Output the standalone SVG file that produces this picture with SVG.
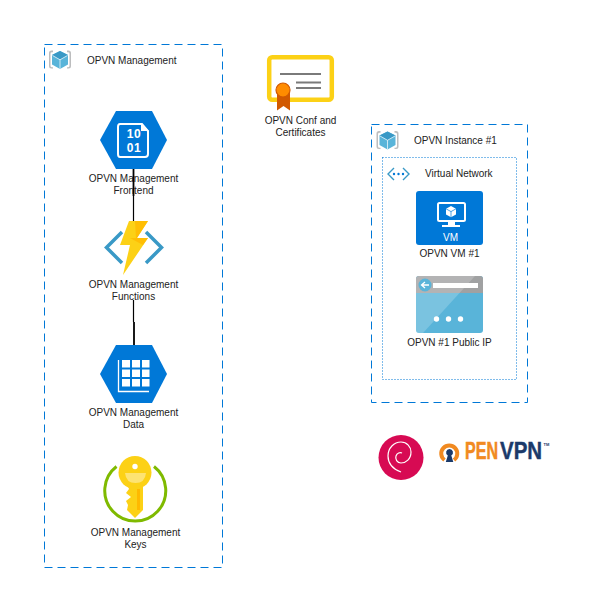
<svg xmlns="http://www.w3.org/2000/svg" width="615" height="601" viewBox="0 0 615 601">
<style>
text{font-family:"Liberation Sans",Arial,sans-serif;font-size:10px;fill:#222}
.c{text-anchor:middle}
.box{fill:none;stroke:#0078d7;stroke-width:1}
.cube-a{fill:#59b4d9}.cube-b{fill:#3999c6}.cube-c{fill:#a0a1a2;opacity:.7}
.blue{fill:#0078d7}.w{fill:#fff}
.digit{font-size:12px;font-weight:bold;fill:#fff;letter-spacing:.6px}
.logo{font-weight:bold}
</style>
<defs>
<g id="cube">
<path class="cube-c" d="M4 0h-1.500q-2.500 0-2.500 2.500v13q0 2.500 2.500 2.500h1.500v-1.300h-1q-1.500 0-1.500-1.500v-12q0-1.400 1.500-1.400h1zM18 0h1.500q2.500 0 2.500 2.500v13q0 2.500-2.500 2.500h-1.500v-1.300h1q1.500 0 1.500-1.500v-12q0-1.400-1.500-1.400h-1z"/>
<path class="cube-a" d="M11 .5l8 4v9.500l-8 4.500-8-4.500v-9.500z"/>
<path class="cube-b" d="M11 .5l8 4-8 4.500-8-4.500z"/>
<path d="M3.500 5l7.500 4.300 7.500-4.300M11 9.300v9" fill="none" stroke="#fff" stroke-width=".7"/>
</g>
</defs>

<g id="opvn-management">
<rect class="box" x="44.500" y="44.500" width="178" height="523" stroke-dasharray="8 5"/>
<use href="#cube" x="49" y="50.500"/>
<text x="87" y="63.500">OPVN Management</text>
</g>

<g id="frontend">
<path class="blue" d="M116 111H152L167 140 152 169H116L100 140z"/>
<path d="M120 124H142L148 131V154Q148 157 145 157H120Q118 157 118 154V127Q118 124 120 124z" fill="none" stroke="#fff" stroke-width="2"/>
<path class="w" d="M141 123l8 8h-8z"/>
<text class="c digit" x="134" y="138">10</text>
<text class="c digit" x="134" y="152">01</text>
<text class="c" x="133.500" y="182">OPVN Management</text>
<text class="c" x="133.500" y="194">Frontend</text>
</g>

<g id="functions">
<path d="M122 232l-15.500 15.500 15.500 15.500" fill="none" stroke="#3999c6" stroke-width="3.500"/>
<path d="M146 232l15.500 15.500-15.500 15.500" fill="none" stroke="#3999c6" stroke-width="3.500"/>
<path fill="#fcd116" d="M129 221H148L137 238H148L123 275 130 245H120z"/>
<path fill="#ffb900" d="M135 221H148L137 238H148L143 245 130 238H136z" opacity=".8"/>
<text class="c" x="133.500" y="288">OPVN Management</text>
<text class="c" x="133.500" y="300">Functions</text>
</g>

<g id="data">
<path class="blue" d="M116 345H152L167 374 152 403H116L100 374z"/>
<path d="M118.500 360V391.500H149" fill="none" stroke="#fff" stroke-width="1.300"/>
<g class="w">
<rect x="122" y="360" width="8" height="7.500"/><rect x="132" y="360" width="8" height="7.500"/><rect x="142" y="360" width="7.500" height="7.500"/>
<rect x="122" y="369.500" width="8" height="7.500"/><rect x="132" y="369.500" width="8" height="7.500"/><rect x="142" y="369.500" width="7.500" height="7.500"/>
<rect x="122" y="379" width="8" height="7.500"/><rect x="132" y="379" width="8" height="7.500"/><rect x="142" y="379" width="7.500" height="7.500"/>
</g>
<text class="c" x="133.500" y="416">OPVN Management</text>
<text class="c" x="133.500" y="428">Data</text>
</g>

<g id="keys">
<path d="M116.500 466.500A30.500 30.500 0 1 0 154 466.500" fill="none" stroke="#7fba00" stroke-width="3"/>
<circle cx="135" cy="472.500" r="16.500" fill="#fcd116"/>
<path fill="#fcd116" d="M127 484H143V510L135 518 127 510 128 505 126 501 131 497 126 493 129 489z"/>
<path fill="#fff" opacity=".4" d="M125 473H146Q145 483 135.500 483T125 473z"/>
<circle cx="135" cy="466.500" r="2.700" fill="#fff"/>
<rect x="137" y="489" width="3" height="21" fill="#ffb900"/>
<text class="c" x="135.500" y="536">OPVN Management</text>
<text class="c" x="135.500" y="548">Keys</text>
</g>

<g id="connectors" stroke="#000" fill="none">
<path d="M133.500 169V196" stroke-width="1.800"/>
<path d="M133.500 196V221" stroke-width="1.200"/>
<path d="M133.500 300V322" stroke-width="1.200"/>
<path d="M134 322V345" stroke-width="1.800"/>
</g>

<g id="conf-certificates">
<rect x="269.200" y="57.200" width="62.600" height="42.600" rx="3" fill="#fff" stroke="#fcd116" stroke-width="4.500"/>
<path d="M280 74H321M296 82.500H321M296 88H321" stroke="#7a7a7a" stroke-width="2" fill="none"/>
<path fill="#d15900" d="M277 92h13v18.500l-6.500-4.500-6.500 4.500z"/>
<circle cx="283" cy="90" r="7" fill="#ff8c00" stroke="#d15900" stroke-width="1.200"/>
<text class="c" x="300.500" y="124">OPVN Conf and</text>
<text class="c" x="300.500" y="136">Certificates</text>
</g>

<g id="opvn-instance">
<rect class="box" x="371.500" y="124.500" width="156" height="278" stroke-dasharray="8 5"/>
<use href="#cube" x="376.500" y="131"/>
<text x="414" y="143.500">OPVN Instance #1</text>
</g>

<g id="virtual-network">
<rect class="box" x="382.500" y="157.500" width="134" height="222" stroke-dasharray="1 2"/>
<path d="M394 168l-6 6 6 6M403 168l6 6-6 6" fill="none" stroke="#3999c6" stroke-width="1.400"/>
<circle cx="394" cy="174" r="1.200" fill="#0078d7"/><circle cx="398.500" cy="174" r="1.200" fill="#0078d7"/><circle cx="403" cy="174" r="1.200" fill="#0078d7"/>
<text x="425" y="177">Virtual Network</text>
</g>

<g id="vm">
<rect class="blue" x="416" y="191" width="67" height="54" rx="3"/>
<rect x="438" y="203" width="27" height="18" rx="1.500" fill="none" stroke="#fff" stroke-width="2"/>
<path class="w" d="M448 222h7v3h5v2h-18v-2h6z"/>
<path class="w" d="M451 206l5 2.800v5.600l-5 2.800-5-2.800v-5.600z"/>
<path d="M446 208.800l5 2.800 5-2.800M451 211.600v5.600" fill="none" stroke="#0078d7" stroke-width=".7"/>
<text class="c" x="450.500" y="241" style="fill:#fff">VM</text>
<text class="c" x="449.500" y="257">OPVN VM #1</text>
</g>

<g id="public-ip">
<rect x="416" y="276" width="67" height="57" rx="3" fill="#59b4d9"/>
<path d="M416 293h67v-14q0-3-3-3h-61q-3 0-3 3z" fill="#a0a1a2"/>
<path d="M423 333L475 276H419Q416 276 416 279V330Q416 333 419 333z" fill="#fff" opacity=".2"/>
<rect x="433" y="283" width="45" height="5" fill="#fff"/>
<circle cx="425" cy="285" r="6.500" fill="#59b4d9"/>
<path d="M429 285h-7M425 282l-3.500 3 3.500 3" fill="none" stroke="#fff" stroke-width="1.300"/>
<circle cx="436.500" cy="319" r="2.700" fill="#fff"/><circle cx="448.500" cy="319" r="2.700" fill="#fff"/><circle cx="460.500" cy="319" r="2.700" fill="#fff"/>
<text class="c" x="449.500" y="346">OPVN #1 Public IP</text>
</g>

<g id="debian">
<circle cx="401" cy="457.500" r="22.500" fill="#d70a53"/>
<path d="M401 472C393 469 388 464 388 456 388 448 394 442 401 442 407 442 411 447 411 452 411 459 406 463 401 463 397 463 395 459 396 456 397 453 400 452 402 453" fill="none" stroke="#fff" stroke-width="1.200"/>
</g>

<g id="openvpn">
<path d="M444.500 460A8 8 0 1 1 454 460" fill="none" stroke="#f18a21" stroke-width="4"/>
<path fill="#1b3a6a" d="M449.500 449a3.500 3.500 0 0 1 1.800 6.500l2 6.500h-7.500l2-6.500a3.500 3.500 0 0 1 1.700-6.500z"/>
<text class="logo" transform="translate(465 459) scale(.7 1)" style="font-size:23px;fill:#f18a21;stroke:#f18a21;stroke-width:.5">PEN</text>
<text class="logo" transform="translate(500 459) scale(.89 1)" style="font-size:23px;fill:#1b3a6a;stroke:#1b3a6a;stroke-width:.4">VPN</text>
<text class="logo" x="543.500" y="446" style="font-size:4px;fill:#1b3a6a">TM</text>
</g>
</svg>
